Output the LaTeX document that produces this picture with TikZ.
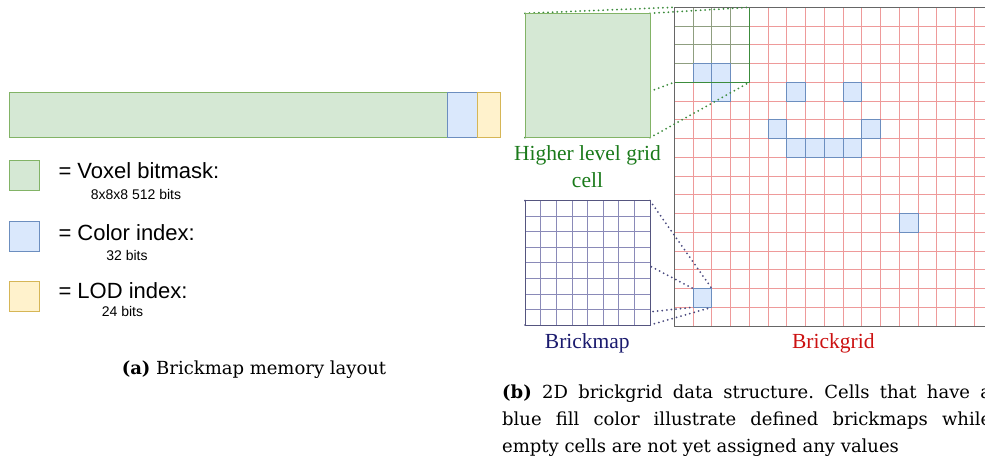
\documentclass[tikz,border=0pt]{standalone}
\usepackage{fontspec}
\setmainfont{DejaVu Serif}
\newfontfamily\sansf{Liberation Sans}
\newfontfamily\timesf{Liberation Serif}
\definecolor{gfill}{HTML}{D5E8D4}
\definecolor{gstroke}{HTML}{82B366}
\definecolor{bfill}{HTML}{DAE8FC}
\definecolor{bstroke}{HTML}{6C8EBF}
\definecolor{yfill}{HTML}{FFF2CC}
\definecolor{ystroke}{HTML}{D6B656}
\definecolor{gridred}{HTML}{EE9A9A}
\definecolor{gridolive}{HTML}{8F9E80}
\definecolor{zgreen}{HTML}{3C8C3C}
\definecolor{navyline}{HTML}{4A4A80}
\definecolor{bmline}{HTML}{8A8AB8}
\definecolor{bmborder}{HTML}{55557F}
\definecolor{txtgreen}{HTML}{1A7A1A}
\definecolor{txtnavy}{HTML}{1A1A6E}
\definecolor{txtred}{HTML}{CC1111}
\tikzset{
  cellbox/.style={rectangle, inner sep=0pt, outer sep=0pt, line width=0.8pt},
  memgreen/.style={cellbox, fill=gfill, draw=gstroke},
  memblue/.style={cellbox, fill=bfill, draw=bstroke},
  memyellow/.style={cellbox, fill=yfill, draw=ystroke},
  legtext/.style={anchor=base west, inner sep=0pt, font=\sansf\fontsize{22}{26}\selectfont},
  subtext/.style={anchor=base, inner sep=0pt, font=\sansf\fontsize{14}{16}\selectfont},
  redline/.style={draw=gridred, line width=0.75pt},
  oliveline/.style={draw=gridolive, line width=0.75pt},
  bluecell/.style={fill=bfill, draw=bstroke, line width=0.8pt},
  gdots/.style={draw=zgreen, line width=2pt, line cap=round, dash pattern=on 0pt off 4.6pt},
  ndots/.style={draw=navyline, line width=2pt, line cap=round, dash pattern=on 0pt off 4.6pt},
  lbl/.style={anchor=base, inner sep=0pt, font=\timesf\fontsize{21.5}{26}\selectfont},
  captext/.style={anchor=base west, font=\frenchspacing\fontsize{18}{22}\selectfont, inner sep=0pt}
}
\begin{document}
\begin{tikzpicture}[x=1pt,y=-1pt]
\useasboundingbox (0,0) rectangle (985,471);
\clip (0,0) rectangle (985,471);
\fill[white] (0,0) rectangle (985,471);
\def\gx{674.3}
\def\gy{7.3}
\def\gc{18.75}
% memory layout bar
\node[memgreen, minimum width=438pt, minimum height=45pt, anchor=north west] (bmask) at (9.3,92.3) {};
\node[memblue, minimum width=30.4pt, minimum height=45pt, anchor=north west] (cidx) at (447.3,92.3) {};
\node[memyellow, minimum width=22.6pt, minimum height=45pt, anchor=north west] (lod) at (477.7,92.3) {};
% legend
\node[memgreen, minimum size=30pt, anchor=north west] (lg1) at (9.3,160.7) {};
\node[memblue, minimum size=30pt, anchor=north west] (lg2) at (9.3,221) {};
\node[memyellow, minimum size=30pt, anchor=north west] (lg3) at (9.3,281.7) {};
\node[legtext] (t1) at (58.3,178.3) {= Voxel bitmask:};
\node[subtext] (s1) at (136,199.3) {8x8x8 512 bits};
\node[legtext] (t2) at (58.3,240) {= Color index:};
\node[subtext] (s2) at (127,260.7) {32 bits};
\node[legtext] (t3) at (58.3,298.3) {= LOD index:};
\node[subtext] (s3) at (122.5,316.7) {24 bits};
% placeholders for the two squares (drawn later on top)
\node[cellbox, minimum width=125pt, minimum height=124.4pt, anchor=north west] (hl) at (525,13.3) {};
\node[cellbox, minimum width=125pt, minimum height=124.3pt, anchor=north west] (bm) at (525,200.7) {};
% brickgrid
\foreach \i in {1,...,17} {
  \draw[redline] ({\gx+\i*\gc},\gy) -- ({\gx+\i*\gc},{\gy+17*\gc});
  \draw[redline] (\gx,{\gy+\i*\gc}) -- (990,{\gy+\i*\gc});
}
\foreach \i in {1,2,3} {
  \draw[oliveline] ({\gx+\i*\gc},\gy) -- ({\gx+\i*\gc},{\gy+4*\gc});
  \draw[oliveline] (\gx,{\gy+\i*\gc}) -- ({\gx+4*\gc},{\gy+\i*\gc});
}
\foreach \c/\r in {1/3,2/3,2/4,6/4,9/4,5/6,10/6,6/7,7/7,8/7,9/7,12/11} {
  \draw[bluecell] ({\gx+\c*\gc},{\gy+\r*\gc}) rectangle +(\gc,\gc);
}
\node[cellbox, fill=bfill, draw=bstroke, minimum size=18.75pt, anchor=north west] (tc) at ({\gx+\gc},{\gy+15*\gc}) {};
\node[cellbox, draw=zgreen, line width=1pt, minimum size=75pt, anchor=north west] (zbox) at (\gx,\gy) {};
\draw[draw=gray!80!black, line width=1pt] (990,\gy) -- (\gx,\gy) -- (\gx,{\gy+17*\gc}) -- (990,{\gy+17*\gc});
% dotted projection lines
\draw[gdots] (hl.north west) -- (zbox.north west);
\draw[gdots] (hl.north east) -- (zbox.north east);
\draw[gdots] (hl.south west) -- (zbox.south west);
\draw[gdots] (hl.south east) -- (zbox.south east);
\draw[ndots] (bm.north west) -- (tc.north west);
\draw[ndots] (bm.north east) -- (tc.north east);
\draw[ndots] (bm.south west) -- (tc.south west);
\draw[ndots] (bm.south east) -- (tc.south east);
% higher level cell and brickmap drawn on top
\draw[fill=gfill, draw=gstroke, line width=0.8pt] (hl.north west) rectangle (hl.south east);
\fill[white] (bm.north west) rectangle (bm.south east);
\foreach \k in {1,...,7} {
  \draw[draw=bmline, line width=0.75pt] ({525+\k*15.625},200.7) -- ({525+\k*15.625},325);
  \draw[draw=bmline, line width=0.75pt] (525,{200.7+\k*15.5375}) -- (650,{200.7+\k*15.5375});
}
\draw[draw=bmborder, line width=1pt] (bm.north west) rectangle (bm.south east);
% labels
\node[lbl, text=txtgreen] (hlt1) at (587.5,160) {Higher level grid};
\node[lbl, text=txtgreen] (hlt2) at (587.5,187.5) {cell};
\node[lbl, text=txtnavy] (bmt) at (587.3,348.3) {Brickmap};
\node[lbl, text=txtred] (bgt) at (833.3,348.3) {Brickgrid};
% captions
\node[anchor=base, inner sep=0pt, font=\fontsize{18}{22}\selectfont] (capa) at (254,374) {\textbf{(a)} Brickmap memory layout};
\node[captext] (capb1) at (502,398.3) {\makebox[489pt][s]{\textbf{(b)} 2D brickgrid data structure. Cells that have a}};
\node[captext] (capb2) at (502,425) {\makebox[489pt][s]{blue fill color illustrate defined brickmaps while}};
\node[captext] (capb3) at (502,452) {empty cells are not yet assigned any values};
\end{tikzpicture}
\end{document}
